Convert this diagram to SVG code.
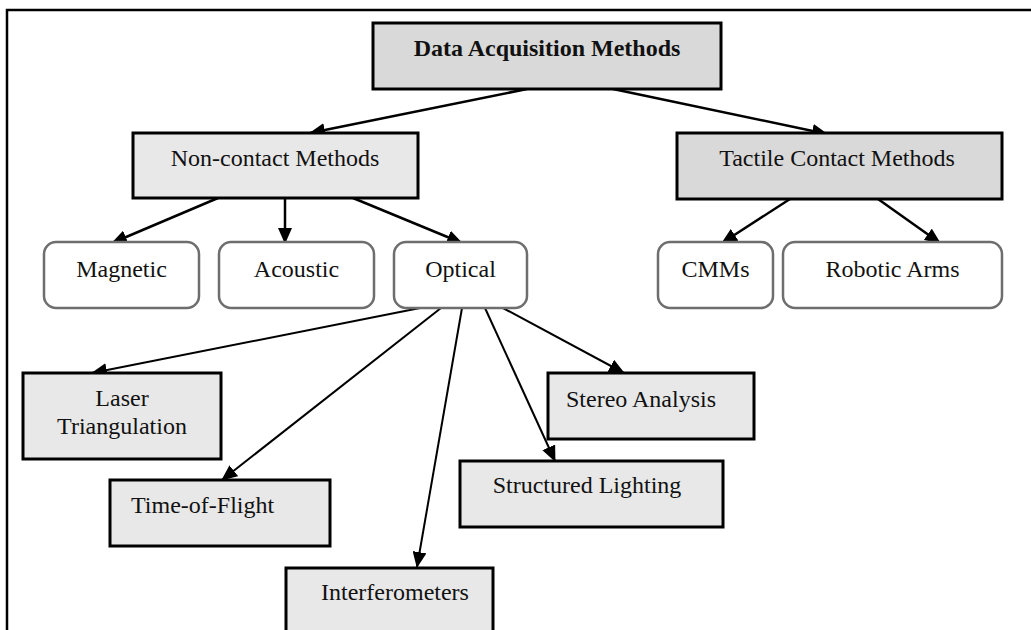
<svg xmlns="http://www.w3.org/2000/svg" width="1031" height="630" viewBox="0 0 1031 630">
  <defs>
    <style>
      .frame { fill: none; stroke: #000; stroke-width: 2.5; }
      .box { stroke: #000; stroke-width: 3; }
      .dark { fill: #d9d9d9; }
      .light { fill: #e8e8e8; }
      .round { fill: #fff; stroke: #6e6e6e; stroke-width: 2.5; }
      .lbl { font-family: "Liberation Serif", "Times New Roman", serif; font-size: 24px; fill: #111; }
      .mid { text-anchor: middle; }
      .title { font-weight: bold; }
      .edge { fill: none; stroke: #000; stroke-width: 2.5; marker-end: url(#arrow); }
      .thin { stroke-width: 2; }
    </style>
    <marker id="arrow" markerUnits="userSpaceOnUse" markerWidth="16" markerHeight="14" refX="15" refY="7" orient="auto">
      <path d="M0,0 L16,7 L0,14 Z" fill="#000"/>
    </marker>
  </defs>

  <rect width="1031" height="630" fill="#fff"/>
  <!-- outer frame: top and left edges -->
  <path class="frame" d="M7,630 V10 H1031"/>

  <g id="connectors">
    <path class="edge" d="M527,89 L310,133"/>
    <path class="edge" d="M613,89 L827,134"/>
    <path class="edge" d="M218,198 L112,243"/>
    <path class="edge" d="M285,198 L285,243"/>
    <path class="edge" d="M353,198 L462,243"/>
    <path class="edge" d="M790,199 L722,243"/>
    <path class="edge" d="M878,199 L940,243"/>
    <path class="edge thin" d="M420,308 L92,373"/>
    <path class="edge thin" d="M441,308 L222,480"/>
    <path class="edge thin" d="M462,308 L417,567"/>
    <path class="edge thin" d="M485,308 L555,461"/>
    <path class="edge thin" d="M503,308 L624,373"/>
  </g>

  <g id="data-acquisition">
    <rect class="box dark" x="373" y="23" width="348" height="66"/>
    <text class="lbl mid title" x="547" y="56">Data Acquisition Methods</text>
  </g>
  <g id="non-contact">
    <rect class="box light" x="133" y="133" width="285" height="65"/>
    <text class="lbl mid" x="275" y="166">Non-contact Methods</text>
  </g>
  <g id="tactile">
    <rect class="box dark" x="677" y="133" width="325" height="66"/>
    <text class="lbl mid" x="837" y="166">Tactile Contact Methods</text>
  </g>

  <g id="magnetic">
    <rect class="round" x="44" y="242" width="155" height="66" rx="12"/>
    <text class="lbl mid" x="121.5" y="277">Magnetic</text>
  </g>
  <g id="acoustic">
    <rect class="round" x="219" y="242" width="155" height="66" rx="12"/>
    <text class="lbl mid" x="296.5" y="277">Acoustic</text>
  </g>
  <g id="optical">
    <rect class="round" x="394" y="242" width="133" height="66" rx="12"/>
    <text class="lbl mid" x="460.5" y="277">Optical</text>
  </g>
  <g id="cmms">
    <rect class="round" x="658" y="242" width="115" height="66" rx="12"/>
    <text class="lbl mid" x="715.5" y="277">CMMs</text>
  </g>
  <g id="robotic-arms">
    <rect class="round" x="783" y="242" width="219" height="66" rx="12"/>
    <text class="lbl mid" x="892.5" y="277">Robotic Arms</text>
  </g>

  <g id="laser-triangulation">
    <rect class="box light" x="23" y="373" width="198" height="86"/>
    <text class="lbl mid" x="122" y="406">Laser</text>
    <text class="lbl mid" x="122" y="434">Triangulation</text>
  </g>
  <g id="stereo-analysis">
    <rect class="box light" x="548" y="373" width="206" height="66"/>
    <text class="lbl" x="566" y="407">Stereo Analysis</text>
  </g>
  <g id="time-of-flight">
    <rect class="box light" x="110" y="480" width="220" height="66"/>
    <text class="lbl" x="131" y="513">Time-of-Flight</text>
  </g>
  <g id="structured-lighting">
    <rect class="box light" x="460" y="461" width="263" height="66"/>
    <text class="lbl mid" x="587" y="493">Structured Lighting</text>
  </g>
  <g id="interferometers">
    <rect class="box light" x="286" y="568" width="207" height="70"/>
    <text class="lbl mid" x="395" y="600">Interferometers</text>
  </g>
</svg>
